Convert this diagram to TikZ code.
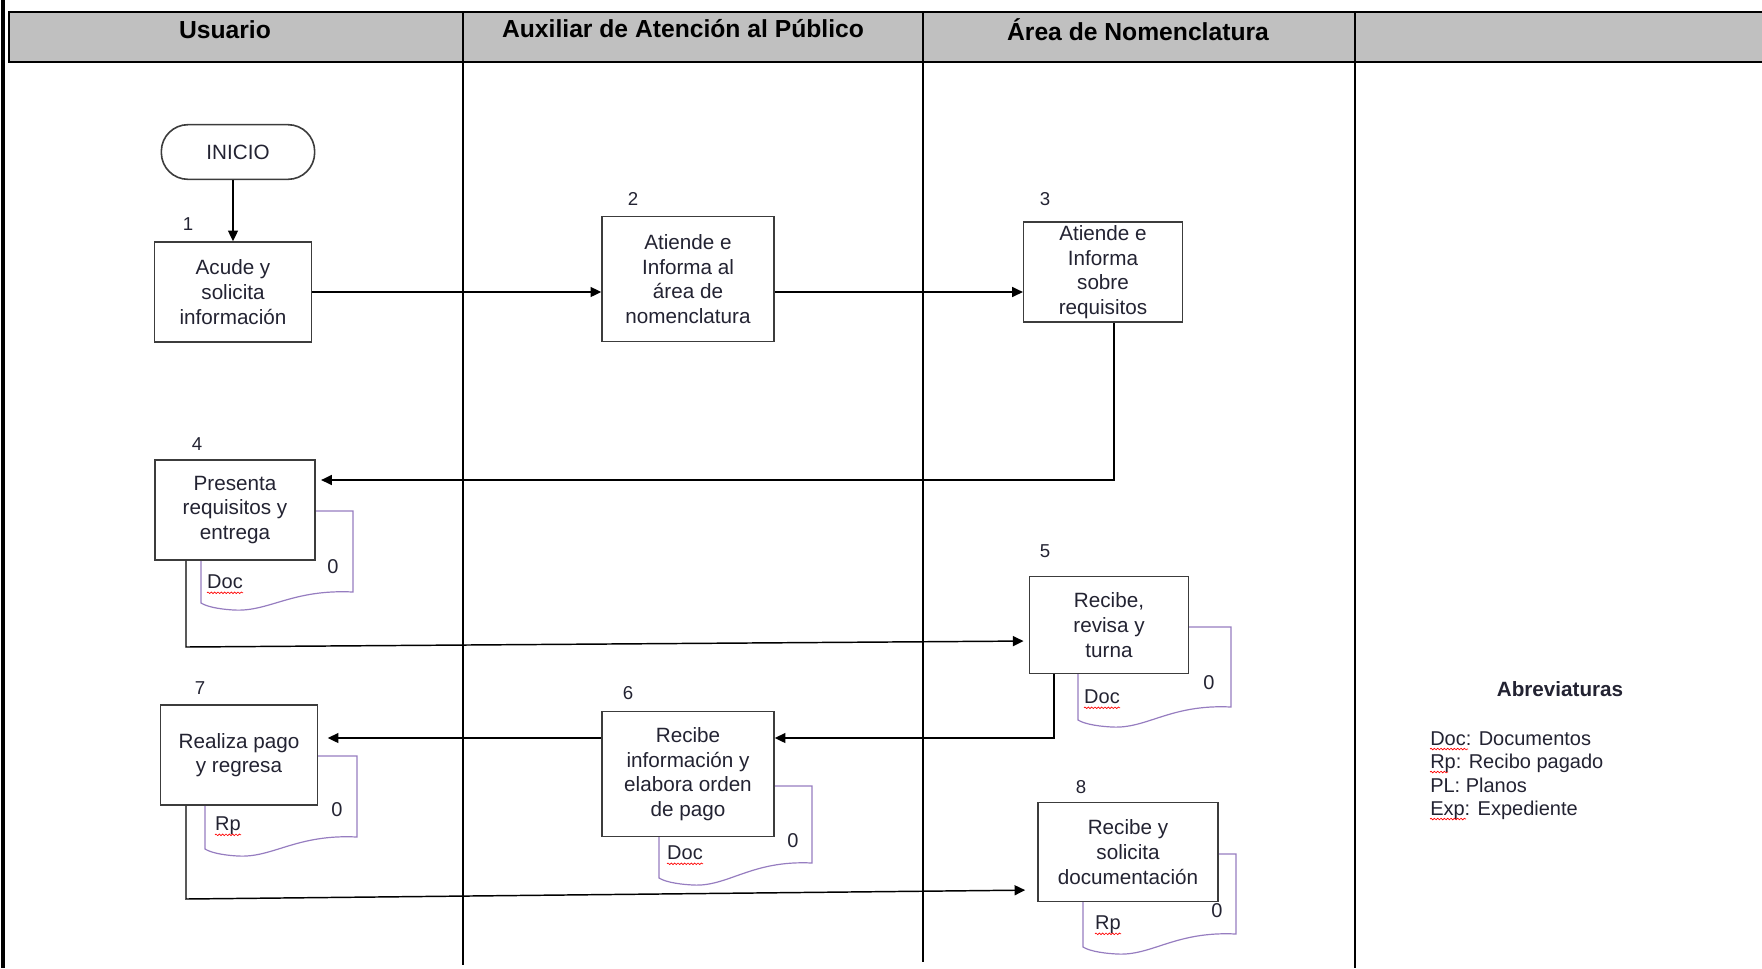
\documentclass[tikz,border=0pt]{standalone}
\usepackage{fontspec}
\setmainfont{Liberation Sans}
\usetikzlibrary{arrows.meta}
\usetikzlibrary{calc}
\usetikzlibrary{decorations.pathmorphing}

\definecolor{hdrgray}{RGB}{192,192,192}
\definecolor{docline}{RGB}{150,125,192}
\definecolor{boxline}{RGB}{60,60,60}
\definecolor{txtcol}{RGB}{35,35,50}

\begin{document}
\begin{tikzpicture}[x=0.75pt,y=0.75pt,yscale=-1,
    lane/.style={line width=2pt},
    proc/.style={draw=boxline, fill=white, line width=1.2pt, align=center, inner sep=1pt,
        text=txtcol, font=\fontsize{15.5}{18.5}\selectfont},
    docshp/.style={draw=docline, line width=0.9pt},
    doctxt/.style={inner sep=0pt, text=txtcol, font=\fontsize{15}{18}\selectfont},
    numtxt/.style={inner sep=0pt, text=txtcol, font=\fontsize{14}{16}\selectfont},
    hdrtxt/.style={inner sep=0pt, font=\fontsize{18.5}{22}\selectfont\bfseries},
    flow/.style={line width=1.1pt, -{Triangle[length=8pt,width=7.5pt]}},
    squig/.style={draw=red, line width=0.5pt, decorate, decoration={snake, amplitude=0.6pt, segment length=2.5pt}}]
        \useasboundingbox (0,0) rectangle (1762,968);

        %Header band
        \fill[hdrgray] (9,12) rectangle (1762,62);
        \draw[line width=2.2pt] (1762,12) -- (9,12) -- (9,62) -- (1762,62);
        %Left border
        \draw[line width=3pt] (3,0) -- (3,968);
        %Lane dividers
        \draw[lane] (463,12) -- (463,965);
        \draw[lane] (923,12) -- (923,962);
        \draw[lane] (1355,12) -- (1355,968);

        \node[hdrtxt] (hUsuario) at (225,30) {Usuario};
        \node[hdrtxt] (hAuxiliar) at (683,29) {Auxiliar de Atención al Público};
        \node[hdrtxt] (hArea) at (1138,30) {Área de Nomenclatura};

        %Shape: Documents
        \draw[docshp] (201,511) -- (353,511) -- (353,592) .. controls (292,589) and (269,612) .. (234,610) .. controls (216,609) and (206,606) .. (201,603) -- cycle ;
        \draw[docshp] (1078,627) -- (1231,627) -- (1231,707) .. controls (1170,704) and (1147,729) .. (1112,727) .. controls (1093,726) and (1083,723) .. (1078,720) -- cycle ;
        \draw[docshp] (659,786) -- (812,786) -- (812,863) .. controls (751,860) and (728,887) .. (693,885) .. controls (674,884) and (664,881) .. (659,878) -- cycle ;
        \draw[docshp] (205,756) -- (357,756) -- (357,837) .. controls (296,834) and (273,858) .. (238,856) .. controls (220,855) and (210,852) .. (205,849) -- cycle ;
        \draw[docshp] (1083,854) -- (1236,854) -- (1236,934) .. controls (1175,931) and (1152,956) .. (1117,954) .. controls (1098,953) and (1088,950) .. (1083,947) -- cycle ;

        %Document labels
        \node[doctxt] (d4t) at (225,582) {Doc};
        \node[doctxt] (d4n) at (333,567) {0};
        \node[doctxt] (d5t) at (1102,697) {Doc};
        \node[doctxt] (d5n) at (1209,683) {0};
        \node[doctxt] (d6t) at (685,853) {Doc};
        \node[doctxt] (d6n) at (793,841) {0};
        \node[doctxt] (d7t) at (228,826) {Rp};
        \node[doctxt] (d7n) at (337,810) {0};
        \node[doctxt] (d8t) at (1108,925) {Rp};
        \node[doctxt] (d8n) at (1217,911) {0};
        \foreach \t in {d4t,d5t,d6t,d7t,d8t}
            \draw[squig] ($(\t.base west)+(0,4)$) -- ($(\t.base east)+(0,4)$);

        %Process boxes
        \node[proc, rounded corners=20pt, minimum width=115pt, minimum height=41pt] (inicio) at (238,152) {INICIO};
        \node[proc, minimum width=118pt, minimum height=75pt] (b1) at (233,292) {Acude y\\solicita\\información};
        \node[proc, minimum width=129pt, minimum height=94pt] (b2) at (688,279) {Atiende e\\Informa al\\área de\\nomenclatura};
        \node[proc, minimum width=119pt, minimum height=75pt] (b3) at (1103,272) {Atiende e\\Informa\\sobre\\requisitos};
        \node[proc, minimum width=120pt, minimum height=75pt] (b4) at (235,510) {Presenta\\requisitos y\\entrega};
        \node[proc, minimum width=119pt, minimum height=73pt] (b5) at (1109,625) {Recibe,\\revisa y\\turna};
        \node[proc, minimum width=129pt, minimum height=94pt] (b6) at (688,774) {Recibe\\información y\\elabora orden\\de pago};
        \node[proc, minimum width=118pt, minimum height=75pt] (b7) at (239,755) {Realiza pago\\y regresa};
        \node[proc, minimum width=135pt, minimum height=74pt] (b8) at (1128,852) {Recibe y\\solicita\\documentación};

        %Step numbers
        \node[numtxt] (n1) at (188,224) {1};
        \node[numtxt] (n2) at (633,199) {2};
        \node[numtxt] (n3) at (1045,199) {3};
        \node[numtxt] (n4) at (197,444) {4};
        \node[numtxt] (n5) at (1045,551) {5};
        \node[numtxt] (n6) at (628,693) {6};
        \node[numtxt] (n7) at (200,688) {7};
        \node[numtxt] (n8) at (1081,787) {8};

        %Connectors
        \coordinate (c3) at (1114,480);
        \coordinate (c4) at (186,647);
        \coordinate (e5) at (0,641);
        \coordinate (c5) at (1054,738);
        \coordinate (c7) at (186,899);
        \coordinate (e8) at (0,890);
        \draw[flow] (inicio.south -| b1.north) -- (b1.north);
        \draw[flow] (b1.east) -- (b1 -| b2.west);
        \draw[flow] (b2.east |- b1) -- (b1 -| b3.west);
        \draw[flow, shorten >=4pt] (b3.south -| c3) -- (c3) -- (c3 -| b4.east);
        \draw[flow, shorten >=4pt] (b4.south -| c4) -- (c4) -- (b5.west |- e5);
        \draw[flow] (b5.south -| c5) -- (c5) -- (c5 -| b6.east);
        \draw[flow, shorten >=7pt] (c5 -| b6.west) -- (c5 -| b7.east);
        \draw[flow, shorten >=9pt] (b7.south -| c7) -- (c7) -- (b8.west |- e8);

        %Abbreviations
        \node[inner sep=0pt, font=\fontsize{15.5}{18}\selectfont\bfseries, text=txtcol] (abtit) at (1560,689) {Abreviaturas};
        \node[doctxt, anchor=base west] (ab1) at (1430,745) {Doc: Documentos};
        \node[doctxt, anchor=base west] (ab2) at (1430,768) {Rp: Recibo pagado};
        \node[doctxt, anchor=base west] (ab3) at (1430,792) {PL: Planos};
        \node[doctxt, anchor=base west] (ab4) at (1430,815) {Exp: Expediente};
        \draw[squig] ($(ab1.base west)+(0,4)$) -- ++(38,0);
        \draw[squig] ($(ab2.base west)+(0,4)$) -- ++(18,0);
        \draw[squig] ($(ab4.base west)+(0,4)$) -- ++(36,0);
\end{tikzpicture}
\end{document}
